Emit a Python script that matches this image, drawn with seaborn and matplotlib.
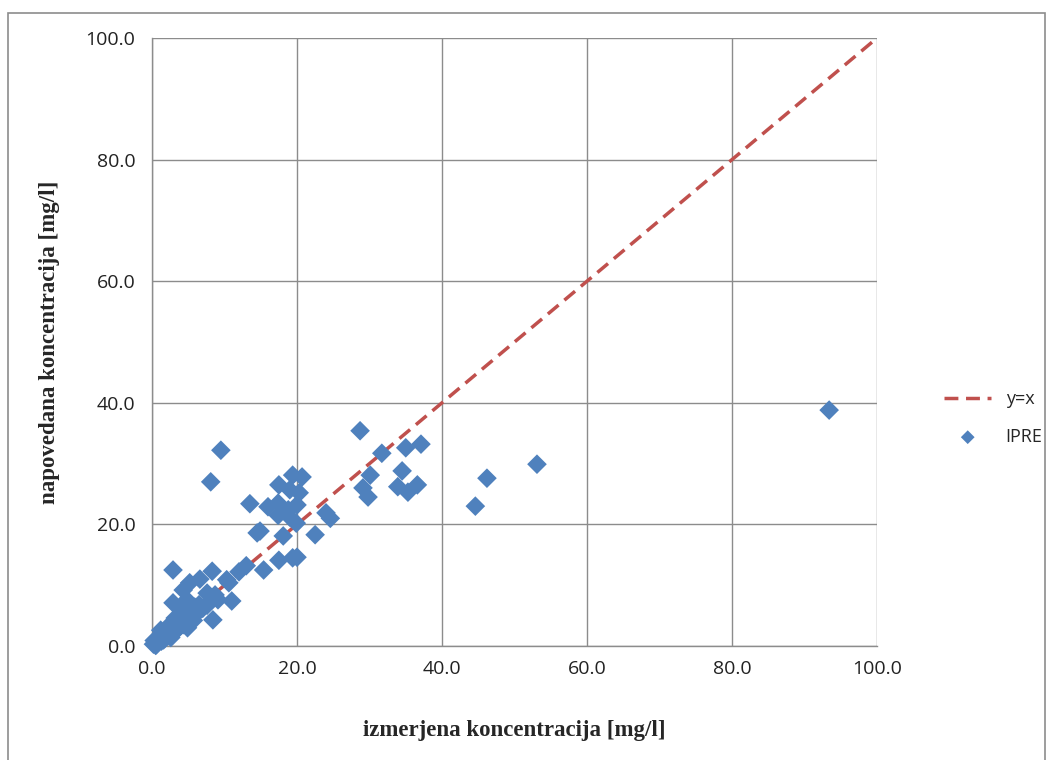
import numpy as np
import pandas as pd
import matplotlib
matplotlib.use("Agg")
import matplotlib.pyplot as plt
from matplotlib.patches import Rectangle
import seaborn as sns

# measured (x) vs predicted (y) concentrations, mg/l
measured = [
    93.4, 53.1, 46.2, 44.6,
    28.7, 31.7, 35.0, 37.1, 34.5, 30.1, 29.1, 29.8, 33.9, 35.3, 36.6,
    9.5, 8.1, 13.5, 17.5, 19.4, 20.7, 19.0, 20.3, 16.0, 17.4, 17.4, 18.8, 20.0, 19.0, 19.9,
    14.5, 18.1, 22.5, 24.0, 24.6, 14.9,
    19.4, 20.0, 17.5, 15.4, 13.0, 12.0, 10.3, 11.0, 8.3, 8.4, 2.9,
    5.2, 6.6, 7.6, 8.7, 2.9, 4.8, 4.3, 5.9, 7.6, 9.1, 5.7, 4.3, 10.6,
    0.2, 0.5, 0.8, 1.0, 1.3, 1.5, 1.8, 2.0, 2.3, 2.5, 2.8, 3.0, 3.3, 3.5,
    3.8, 4.0, 4.3, 4.6, 5.0, 5.3, 5.7, 6.0, 1.2, 2.2, 3.2, 4.1, 2.6, 0.3,
    6.5, 7.0, 0.6, 1.6, 3.6, 4.9,
]
predicted = [
    38.8, 29.9, 27.6, 23.0,
    35.4, 31.7, 32.6, 33.2, 28.8, 28.1, 26.0, 24.5, 26.2, 25.3, 26.5,
    32.2, 27.0, 23.4, 26.5, 28.1, 27.8, 25.7, 25.2, 22.9, 23.5, 21.5, 22.4, 23.2, 21.2, 20.2,
    18.6, 18.1, 18.3, 21.9, 21.0, 18.9,
    14.5, 14.6, 14.1, 12.5, 13.2, 12.2, 10.9, 7.4, 12.3, 4.3, 12.5,
    10.4, 11.0, 8.7, 8.4, 7.1, 7.6, 9.2, 6.4, 6.7, 7.6, 4.8, 4.3, 10.4,
    0.3, 0.1, 0.6, 1.2, 0.8, 1.8, 1.3, 2.2, 1.7, 2.8, 2.3, 3.3, 2.6, 3.8,
    3.1, 4.5, 3.5, 5.0, 3.9, 5.6, 4.2, 5.4, 2.6, 3.2, 4.6, 5.8, 1.4, 0.9,
    6.8, 6.2, 0.2, 1.0, 2.9, 3.0,
]
identity = [0.0, 100.0]
ticks = [0, 20, 40, 60, 80, 100]
tick_labels = ["0.0", "20.0", "40.0", "60.0", "80.0", "100.0"]

points = pd.DataFrame({"measured": measured, "predicted": predicted})
ref_line = pd.DataFrame({"x": identity, "y": identity})

sns.set_theme(style="white")
plt.rcParams["font.family"] = ["Open Sans", "DejaVu Sans"]

fig = plt.figure(figsize=(10.49, 7.6), dpi=100)
ax = fig.add_axes([152 / 1049, 1 - 646 / 760, 725 / 1049, 608 / 760])

# thin grey frame around the whole chart
fig.patches.append(Rectangle((8 / 1049, -0.01), 1037 / 1049, 1 - 13 / 760 + 0.01,
                             transform=fig.transFigure, fill=False,
                             edgecolor="#8c8c8c", linewidth=1.2))

sns.lineplot(data=ref_line, x="x", y="y", ax=ax, color="#C0504D",
             linewidth=2.5, dashes=False, label="y=x", zorder=2)
ax.lines[0].set_dashes([4, 2.2])
sns.scatterplot(data=points, x="measured", y="predicted", ax=ax,
                marker="D", s=100, color="#4F81BD", edgecolor="none",
                label="IPRE", zorder=3, clip_on=False)

ax.set_xlim(0, 100)
ax.set_ylim(0, 100)
ax.set_xticks(ticks)
ax.set_yticks(ticks)
ax.set_xticklabels(tick_labels)
ax.set_yticklabels(tick_labels)
ax.tick_params(axis="both", labelsize=14, colors="#8c8c8c", labelcolor="#222222",
               length=6, width=1, direction="out")
ax.tick_params(axis="x", pad=4)
ax.tick_params(axis="y", pad=6)
ax.grid(True, color="#8c8c8c", linewidth=1)
for side in ["top", "right"]:
    ax.spines[side].set_visible(False)
for side in ["left", "bottom"]:
    ax.spines[side].set_color("#8c8c8c")
    ax.spines[side].set_linewidth(1)

ax.set_xlabel("izmerjena koncentracija [mg/l]", family="Liberation Serif",
              fontweight="bold", fontsize=16.5, labelpad=30)
ax.set_ylabel("napovedana koncentracija [mg/l]", family="Liberation Serif",
              fontweight="bold", fontsize=16.5, labelpad=18)

handles, labels = ax.get_legend_handles_labels()
leg = ax.legend(handles, labels, loc="center left", bbox_to_anchor=(928 / 1049, 1 - 418 / 760),
                bbox_transform=fig.transFigure, frameon=False, fontsize=13,
                handlelength=2.6, labelspacing=1.1, markerscale=0.7)

fig.savefig("out.png", dpi=100)
